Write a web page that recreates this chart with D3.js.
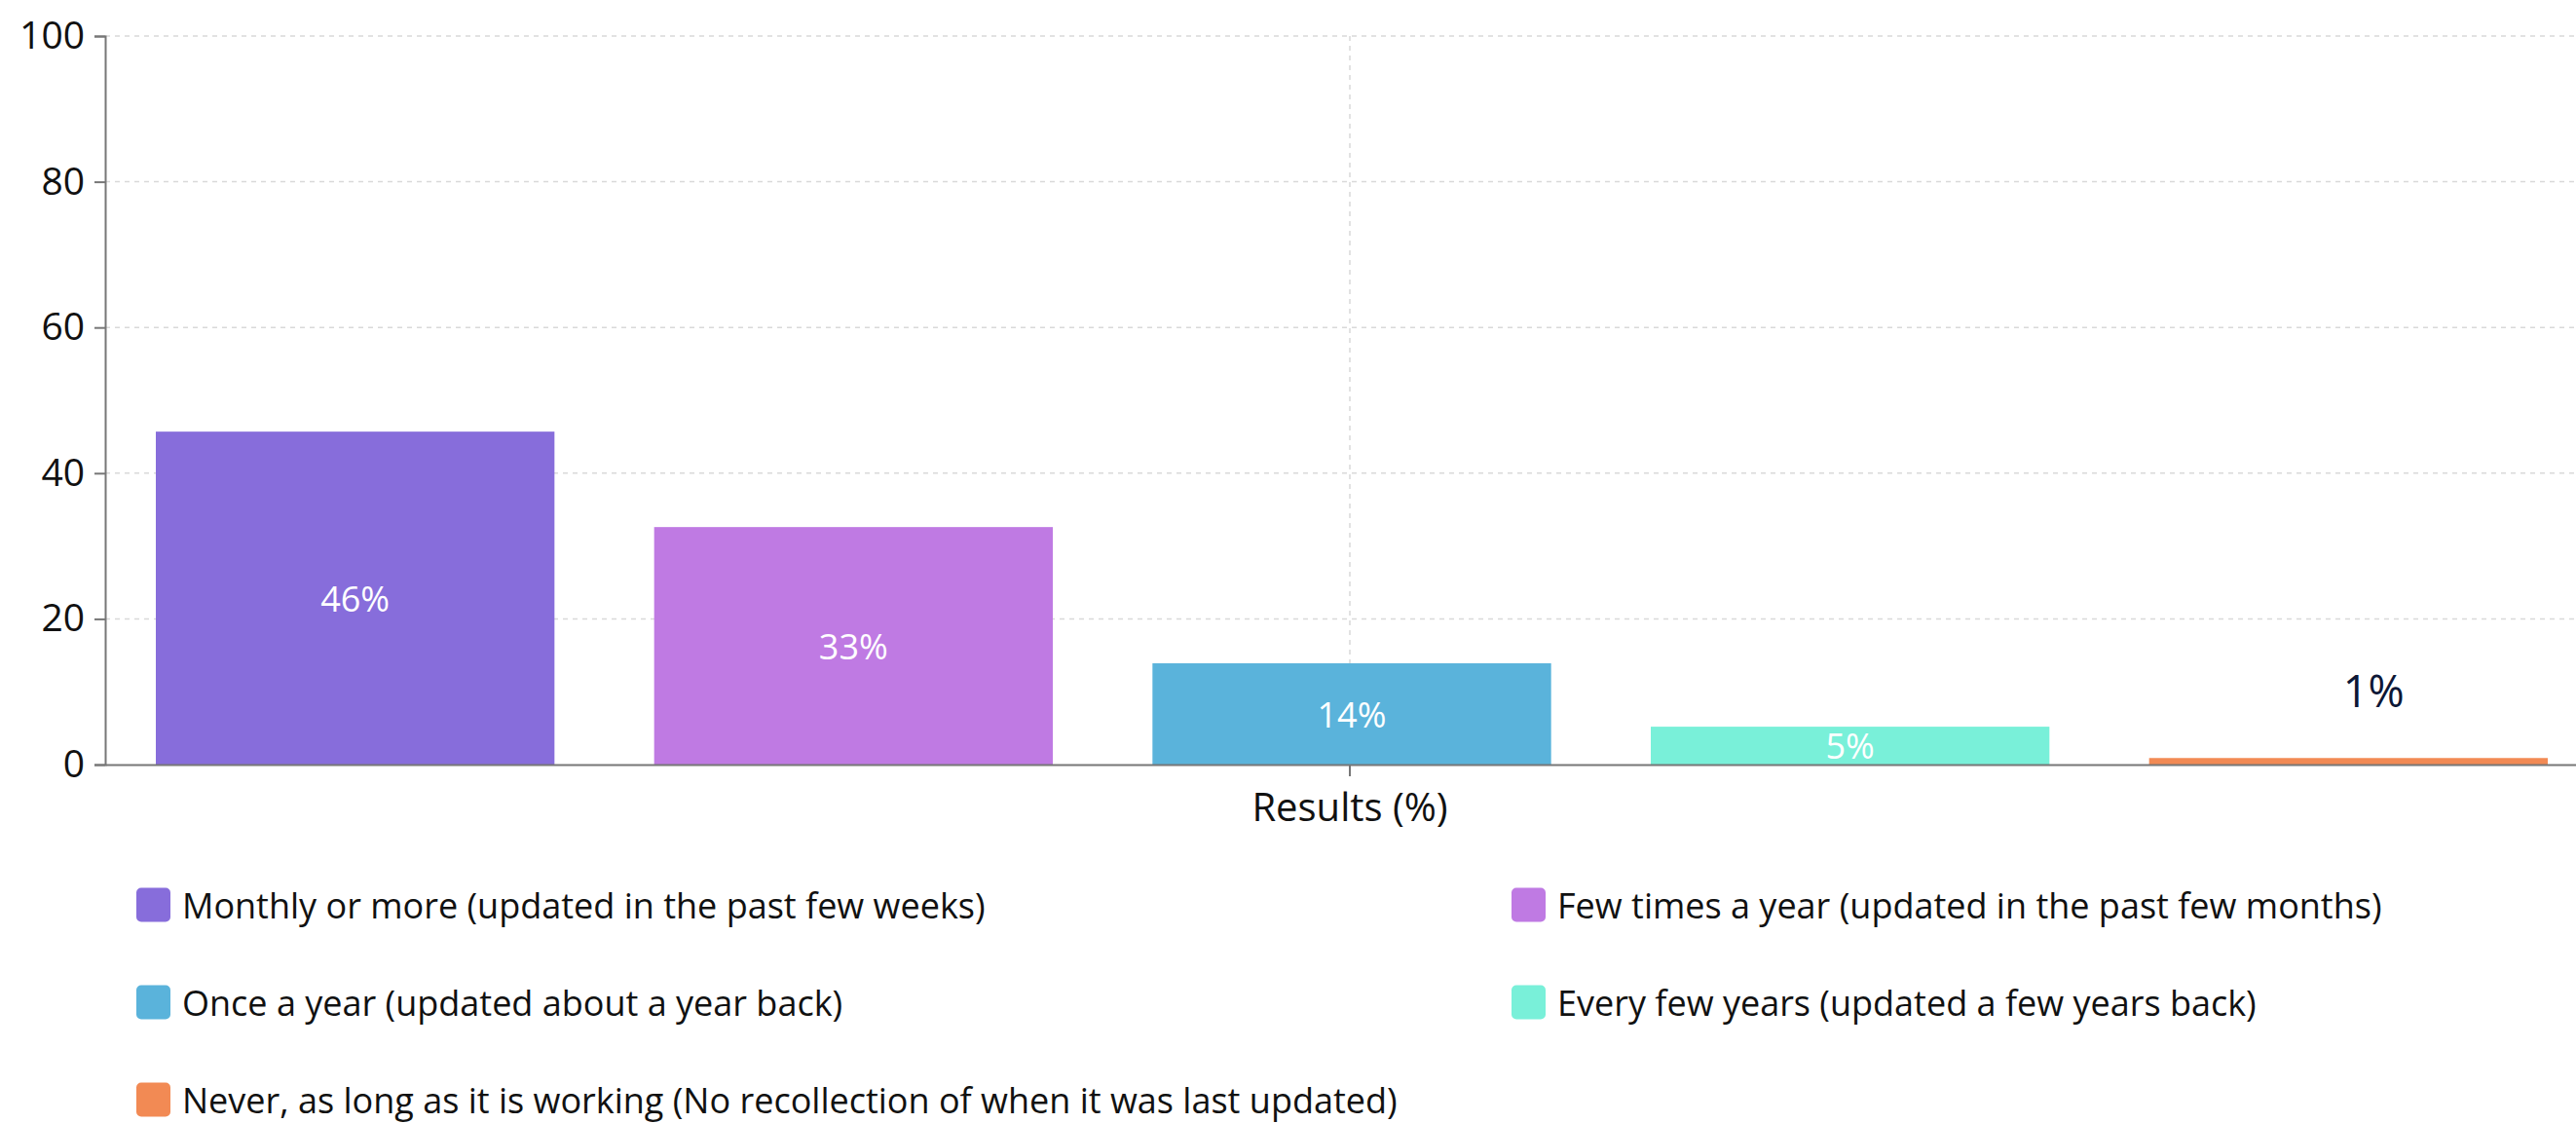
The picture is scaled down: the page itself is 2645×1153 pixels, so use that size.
<!DOCTYPE html>
<html><head><meta charset="utf-8">
<script src="https://cdnjs.cloudflare.com/ajax/libs/d3/7.8.5/d3.min.js"></script>
<style>
html,body{margin:0;padding:0;background:#fff;overflow:hidden}
svg{display:block;font-family:"Open Sans",sans-serif}
</style></head>
<body>
<svg id="chart" width="2645" height="1153"></svg>
<script>
const categories = ["Results (%)"];
const seriesNames = [
  "Monthly or more (updated in the past few weeks)",
  "Few times a year (updated in the past few months)",
  "Once a year (updated about a year back)",
  "Every few years (updated a few years back)",
  "Never, as long as it is working (No recollection of when it was last updated)"
];
const seriesValues = [45.7, 32.6, 13.9, 5.2, 0.9];
const seriesLabels = ["46%", "33%", "14%", "5%", "1%"];
const seriesColors = ["#876ddb", "#bf7ae3", "#5ab3db", "#79f0d9", "#f28a54"];
const yTicks = [0, 20, 40, 60, 80, 100];

const svg = d3.select("#chart");
const pLeft = 108, pRight = 2664, pTop = 37, pBottom = 785;

const y = d3.scaleLinear().domain([0, 100]).range([pBottom, pTop]);
const x0 = d3.scaleBand().domain(categories).range([pLeft, pRight]);
const x1 = d3.scaleBand().domain(seriesNames).range([160, 2616]).paddingInner(0.2);

// grid
const grid = svg.append("g");
grid.selectAll("line.h").data(yTicks.filter(t => t > 0)).enter().append("line")
  .attr("x1", pLeft).attr("x2", pRight)
  .attr("y1", d => y(d)).attr("y2", d => y(d))
  .attr("stroke", "#d9d9d9").attr("stroke-width", 1.5).attr("stroke-dasharray", "5,5");
grid.selectAll("line.v").data(categories).enter().append("line")
  .attr("x1", d => x0(d) + x0.bandwidth() / 2).attr("x2", d => x0(d) + x0.bandwidth() / 2)
  .attr("y1", pTop).attr("y2", pBottom)
  .attr("stroke", "#d9d9d9").attr("stroke-width", 1.5).attr("stroke-dasharray", "5,5");

// bars
svg.append("g").selectAll("rect").data(seriesNames).enter().append("rect")
  .attr("x", d => x1(d))
  .attr("y", (d, i) => y(seriesValues[i]))
  .attr("width", x1.bandwidth())
  .attr("height", (d, i) => y(0) - y(seriesValues[i]))
  .attr("fill", (d, i) => seriesColors[i]);

// axes
const yAxis = svg.append("g").attr("transform", `translate(${pLeft},0)`)
  .call(d3.axisLeft(y).tickValues(yTicks).tickSize(11).tickPadding(10));
yAxis.select(".domain").attr("stroke", "#777").attr("stroke-width", 2);
yAxis.selectAll(".tick line").attr("stroke", "#777").attr("stroke-width", 2);
yAxis.selectAll(".tick text").attr("font-size", 39).attr("fill", "#111")
  .attr("font-family", "'Open Sans', sans-serif");

const xAxis = svg.append("g").attr("transform", `translate(0,${pBottom})`)
  .call(d3.axisBottom(x0).tickSize(12).tickPadding(14).tickSizeOuter(0));
xAxis.select(".domain").attr("stroke", "#777").attr("stroke-width", 2);
xAxis.selectAll(".tick line").attr("stroke", "#777").attr("stroke-width", 2);
xAxis.selectAll(".tick text").attr("font-size", 40).attr("fill", "#111")
  .attr("font-family", "'Open Sans', sans-serif").attr("dy", "0.8em");

// value labels
svg.append("g").selectAll("text").data(seriesNames).enter().append("text")
  .attr("x", (d, i) => x1(d) + x1.bandwidth() / 2 + (seriesValues[i] < 3 ? 26 : 0))
  .attr("y", (d, i) => seriesValues[i] < 3 ? y(seriesValues[i]) - 70 : (y(seriesValues[i]) + y(0)) / 2)
  .attr("text-anchor", "middle").attr("dominant-baseline", "central")
  .attr("font-size", (d, i) => seriesValues[i] < 3 ? 45 : 36)
  .attr("fill", (d, i) => seriesValues[i] < 3 ? "#0d1736" : "#ffffff")
  .text((d, i) => seriesLabels[i]);

// legend
const legCols = [140, 1552];
const legRows = [929, 1029, 1129];
const leg = svg.append("g").selectAll("g").data(seriesNames).enter().append("g")
  .attr("transform", (d, i) => `translate(${legCols[i % 2]},${legRows[Math.floor(i / 2)]})`);
leg.append("rect").attr("x", 0).attr("y", -17.5).attr("width", 35).attr("height", 35)
  .attr("rx", 5).attr("fill", (d, i) => seriesColors[i]);
leg.append("text").attr("x", 47).attr("y", 0).attr("dominant-baseline", "central")
  .attr("font-size", 36).attr("fill", "#111").text(d => d);
</script>
</body></html>
